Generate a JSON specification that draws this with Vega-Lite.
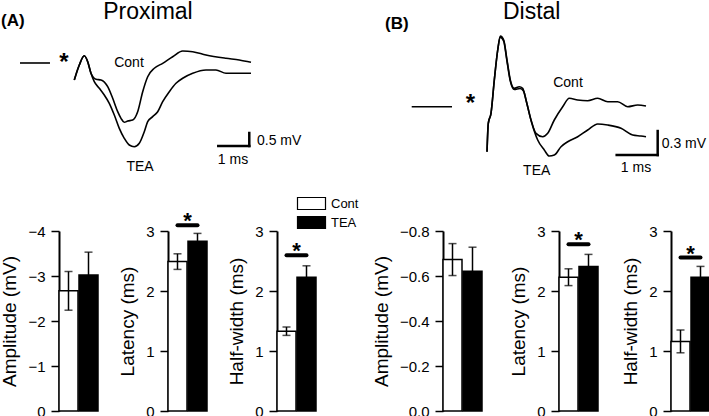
{
  "$schema": "https://vega.github.io/schema/vega-lite/v6.json",
  "padding": 0,
  "background": "white",
  "config": {
    "font": "Liberation Sans",
    "view": {"stroke": null},
    "text": {"color": "black"},
    "axis": {
      "domainColor": "black", "domainWidth": 2,
      "tickColor": "black", "tickWidth": 1.5, "tickSize": 8,
      "labelColor": "black", "labelFontSize": 15, "labelPadding": 6,
      "titleColor": "black", "titleFontSize": 19, "titleFontWeight": "normal", "titlePadding": 8,
      "grid": false
    }
  },
  "datasets": {
    "traces": [
      {"panel":"A","trace":"pre","t":-1.419,"v":0},{"panel":"A","trace":"pre","t":-0.452,"v":0},
      {"panel":"A","trace":"Cont","t":0.332,"v":-0.654},{"panel":"A","trace":"Cont","t":0.494,"v":-0.077},{"panel":"A","trace":"Cont","t":0.655,"v":0.281},{"panel":"A","trace":"Cont","t":0.765,"v":0.05},{"panel":"A","trace":"Cont","t":0.871,"v":-0.396},{"panel":"A","trace":"Cont","t":1.032,"v":-0.627},{"panel":"A","trace":"Cont","t":1.194,"v":-0.654},{"panel":"A","trace":"Cont","t":1.41,"v":-0.912},{"panel":"A","trace":"Cont","t":1.571,"v":-1.358},{"panel":"A","trace":"Cont","t":1.732,"v":-1.873},{"panel":"A","trace":"Cont","t":1.839,"v":-2.127},{"panel":"A","trace":"Cont","t":1.945,"v":-2.281},{"panel":"A","trace":"Cont","t":2.055,"v":-2.231},{"panel":"A","trace":"Cont","t":2.216,"v":-2.192},{"panel":"A","trace":"Cont","t":2.377,"v":-1.873},{"panel":"A","trace":"Cont","t":2.539,"v":-1.104},{"panel":"A","trace":"Cont","t":2.7,"v":-0.527},{"panel":"A","trace":"Cont","t":2.913,"v":-0.204},{"panel":"A","trace":"Cont","t":3.184,"v":-0.012},{"panel":"A","trace":"Cont","t":3.506,"v":0.242},{"panel":"A","trace":"Cont","t":3.829,"v":0.462},{"panel":"A","trace":"Cont","t":4.152,"v":0.435},{"panel":"A","trace":"Cont","t":4.581,"v":0.308},{"panel":"A","trace":"Cont","t":5.226,"v":0.181},{"panel":"A","trace":"Cont","t":5.655,"v":0.115},{"panel":"A","trace":"Cont","t":6.032,"v":0.027},
      {"panel":"A","trace":"TEA","t":0.332,"v":-0.654},{"panel":"A","trace":"TEA","t":0.494,"v":-0.077},{"panel":"A","trace":"TEA","t":0.655,"v":0.281},{"panel":"A","trace":"TEA","t":0.765,"v":0.05},{"panel":"A","trace":"TEA","t":0.871,"v":-0.396},{"panel":"A","trace":"TEA","t":0.977,"v":-0.719},{"panel":"A","trace":"TEA","t":1.139,"v":-0.973},{"panel":"A","trace":"TEA","t":1.3,"v":-1.231},{"panel":"A","trace":"TEA","t":1.461,"v":-1.55},{"panel":"A","trace":"TEA","t":1.623,"v":-2.0},{"panel":"A","trace":"TEA","t":1.784,"v":-2.512},{"panel":"A","trace":"TEA","t":1.945,"v":-2.896},{"panel":"A","trace":"TEA","t":2.106,"v":-3.154},{"panel":"A","trace":"TEA","t":2.268,"v":-3.219},{"panel":"A","trace":"TEA","t":2.429,"v":-3.088},{"panel":"A","trace":"TEA","t":2.59,"v":-2.642},{"panel":"A","trace":"TEA","t":2.7,"v":-2.258},{"panel":"A","trace":"TEA","t":2.861,"v":-2.065},{"panel":"A","trace":"TEA","t":3.023,"v":-1.873},{"panel":"A","trace":"TEA","t":3.184,"v":-1.488},{"panel":"A","trace":"TEA","t":3.397,"v":-1.104},{"panel":"A","trace":"TEA","t":3.613,"v":-0.781},{"panel":"A","trace":"TEA","t":3.829,"v":-0.588},{"panel":"A","trace":"TEA","t":4.152,"v":-0.396},{"panel":"A","trace":"TEA","t":4.581,"v":-0.269},{"panel":"A","trace":"TEA","t":4.903,"v":-0.269},{"panel":"A","trace":"TEA","t":5.226,"v":-0.396},{"panel":"A","trace":"TEA","t":5.655,"v":-0.396},{"panel":"A","trace":"TEA","t":6.032,"v":-0.396},
      {"panel":"B","trace":"pre","t":-1.422,"v":0},{"panel":"B","trace":"pre","t":-0.439,"v":0},
      {"panel":"B","trace":"Cont","t":0.415,"v":-0.563},{"panel":"B","trace":"Cont","t":0.446,"v":-0.208},{"panel":"B","trace":"Cont","t":0.512,"v":-0.083},{"panel":"B","trace":"Cont","t":0.593,"v":0.334},{"panel":"B","trace":"Cont","t":0.676,"v":0.709},{"panel":"B","trace":"Cont","t":0.739,"v":0.884},{"panel":"B","trace":"Cont","t":0.822,"v":0.834},{"panel":"B","trace":"Cont","t":0.902,"v":0.584},{"panel":"B","trace":"Cont","t":0.983,"v":0.334},{"panel":"B","trace":"Cont","t":1.08,"v":0.23},{"panel":"B","trace":"Cont","t":1.202,"v":0.25},{"panel":"B","trace":"Cont","t":1.285,"v":0.23},{"panel":"B","trace":"Cont","t":1.366,"v":0.084},{"panel":"B","trace":"Cont","t":1.488,"v":-0.166},{"panel":"B","trace":"Cont","t":1.61,"v":-0.333},{"panel":"B","trace":"Cont","t":1.773,"v":-0.375},{"panel":"B","trace":"Cont","t":1.895,"v":-0.333},{"panel":"B","trace":"Cont","t":2.056,"v":-0.166},{"panel":"B","trace":"Cont","t":2.261,"v":0.0},{"panel":"B","trace":"Cont","t":2.422,"v":0.105},{"panel":"B","trace":"Cont","t":2.627,"v":0.084},{"panel":"B","trace":"Cont","t":2.871,"v":0.075},{"panel":"B","trace":"Cont","t":3.115,"v":0.105},{"panel":"B","trace":"Cont","t":3.359,"v":0.063},{"panel":"B","trace":"Cont","t":3.602,"v":0.063},{"panel":"B","trace":"Cont","t":3.846,"v":0.0},{"panel":"B","trace":"Cont","t":4.09,"v":0.021},{"panel":"B","trace":"Cont","t":4.293,"v":0.009},
      {"panel":"B","trace":"TEA","t":0.415,"v":-0.563},{"panel":"B","trace":"TEA","t":0.446,"v":-0.208},{"panel":"B","trace":"TEA","t":0.512,"v":-0.083},{"panel":"B","trace":"TEA","t":0.593,"v":0.334},{"panel":"B","trace":"TEA","t":0.676,"v":0.709},{"panel":"B","trace":"TEA","t":0.739,"v":0.87},{"panel":"B","trace":"TEA","t":0.822,"v":0.82},{"panel":"B","trace":"TEA","t":0.902,"v":0.57},{"panel":"B","trace":"TEA","t":0.983,"v":0.32},{"panel":"B","trace":"TEA","t":1.08,"v":0.215},{"panel":"B","trace":"TEA","t":1.22,"v":0.228},{"panel":"B","trace":"TEA","t":1.305,"v":0.196},{"panel":"B","trace":"TEA","t":1.39,"v":0.034},{"panel":"B","trace":"TEA","t":1.5,"v":-0.191},{"panel":"B","trace":"TEA","t":1.651,"v":-0.416},{"panel":"B","trace":"TEA","t":1.812,"v":-0.541},{"panel":"B","trace":"TEA","t":1.934,"v":-0.616},{"panel":"B","trace":"TEA","t":2.056,"v":-0.604},{"panel":"B","trace":"TEA","t":2.22,"v":-0.5},{"panel":"B","trace":"TEA","t":2.383,"v":-0.438},{"panel":"B","trace":"TEA","t":2.627,"v":-0.375},{"panel":"B","trace":"TEA","t":2.871,"v":-0.291},{"panel":"B","trace":"TEA","t":3.115,"v":-0.216},{"panel":"B","trace":"TEA","t":3.359,"v":-0.229},{"panel":"B","trace":"TEA","t":3.683,"v":-0.27},{"panel":"B","trace":"TEA","t":3.968,"v":-0.354},{"panel":"B","trace":"TEA","t":4.171,"v":-0.366},{"panel":"B","trace":"TEA","t":4.293,"v":-0.375}
    ],
    "bars": [
      {"region":"Proximal","measure":"Amplitude","group":"Cont","mean":-2.67,"lo":-3.1,"hi":-2.24},
      {"region":"Proximal","measure":"Amplitude","group":"TEA","mean":-3.02,"lo":-3.53,"hi":-2.51},
      {"region":"Proximal","measure":"Latency","group":"Cont","mean":2.49,"lo":2.36,"hi":2.62},
      {"region":"Proximal","measure":"Latency","group":"TEA","mean":2.83,"lo":2.7,"hi":2.96},
      {"region":"Proximal","measure":"Half-width","group":"Cont","mean":1.33,"lo":1.26,"hi":1.4},
      {"region":"Proximal","measure":"Half-width","group":"TEA","mean":2.23,"lo":2.04,"hi":2.42},
      {"region":"Distal","measure":"Amplitude","group":"Cont","mean":-0.673,"lo":-0.744,"hi":-0.602},
      {"region":"Distal","measure":"Amplitude","group":"TEA","mean":-0.621,"lo":-0.728,"hi":-0.514},
      {"region":"Distal","measure":"Latency","group":"Cont","mean":2.23,"lo":2.09,"hi":2.37},
      {"region":"Distal","measure":"Latency","group":"TEA","mean":2.41,"lo":2.21,"hi":2.61},
      {"region":"Distal","measure":"Half-width","group":"Cont","mean":1.16,"lo":0.97,"hi":1.35},
      {"region":"Distal","measure":"Half-width","group":"TEA","mean":2.23,"lo":2.05,"hi":2.41}
    ],
    "sig": [
      {"region":"Proximal","measure":"Latency","level":3.095},
      {"region":"Proximal","measure":"Half-width","level":2.595},
      {"region":"Distal","measure":"Latency","level":2.78},
      {"region":"Distal","measure":"Half-width","level":2.557}
    ]
  },
  "spacing": 18,
  "vconcat": [
    {
      "hconcat": [
        {
          "width": 186, "height": 148,
          "layer": [
            {"data": {"name": "traces"}, "transform": [{"filter": "datum.panel === 'A'"}],
             "mark": {"type": "line", "color": "black", "strokeWidth": 1.6, "interpolate": "monotone"},
             "encoding": {
               "x": {"field": "t", "type": "quantitative", "scale": {"domain": [-0.161, 5.839], "nice": false, "zero": false}, "axis": null},
               "y": {"field": "v", "type": "quantitative", "scale": {"domain": [-4.423, 1.269], "nice": false, "zero": false}, "axis": null},
               "detail": {"field": "trace", "type": "nominal"}}},
            {"data": {"values": [{}]}, "mark": {"type": "rule", "color": "black", "strokeWidth": 2.5, "strokeCap": "square"},
             "encoding": {"x": {"datum": 4.977, "type": "quantitative", "axis": null}, "x2": {"datum": 5.977}, "y": {"datum": -3.192, "type": "quantitative", "axis": null}}},
            {"data": {"values": [{}]}, "mark": {"type": "rule", "color": "black", "strokeWidth": 2.5, "strokeCap": "square"},
             "encoding": {"x": {"datum": 5.977, "type": "quantitative", "axis": null}, "y": {"datum": -3.192, "type": "quantitative", "axis": null}, "y2": {"datum": -2.692}}},
            {"data": {"values": [{}]}, "mark": {"type": "text", "text": "Proximal", "fontSize": 23, "align": "center", "baseline": "alphabetic"},
             "encoding": {"x": {"datum": 2.71, "type": "quantitative", "axis": null}, "y": {"datum": 1.681, "type": "quantitative", "axis": null}}},
            {"data": {"values": [{}]}, "mark": {"type": "text", "text": "Cont", "fontSize": 14, "align": "center", "baseline": "alphabetic"},
             "encoding": {"x": {"datum": 2.097, "type": "quantitative", "axis": null}, "y": {"datum": -0.154, "type": "quantitative", "axis": null}}},
            {"data": {"values": [{}]}, "mark": {"type": "text", "text": "TEA", "fontSize": 14, "align": "center", "baseline": "alphabetic"},
             "encoding": {"x": {"datum": 2.452, "type": "quantitative", "axis": null}, "y": {"datum": -4.154, "type": "quantitative", "axis": null}}},
            {"data": {"values": [{}]}, "mark": {"type": "text", "text": "1 ms", "fontSize": 14, "align": "center", "baseline": "alphabetic"},
             "encoding": {"x": {"datum": 5.452, "type": "quantitative", "axis": null}, "y": {"datum": -3.885, "type": "quantitative", "axis": null}}},
            {"data": {"values": [{}]}, "mark": {"type": "text", "text": "0.5 mV", "fontSize": 14, "align": "left", "baseline": "alphabetic"},
             "encoding": {"x": {"datum": 6.226, "type": "quantitative", "axis": null}, "y": {"datum": -3.154, "type": "quantitative", "axis": null}}},
            {"data": {"values": [{}]}, "mark": {"type": "text", "text": "(A)", "fontSize": 17, "fontWeight": "bold", "align": "left", "baseline": "alphabetic"},
             "encoding": {"x": {"datum": -2.032, "type": "quantitative", "axis": null}, "y": {"datum": 1.404, "type": "quantitative", "axis": null}}},
            {"data": {"values": [{}]}, "mark": {"type": "text", "text": "*", "fontSize": 24, "fontWeight": "bold", "align": "center", "baseline": "alphabetic"},
             "encoding": {"x": {"datum": 0.0, "type": "quantitative", "axis": null}, "y": {"datum": -0.258, "type": "quantitative", "axis": null}}}
          ]
        },
        {
          "width": 341, "height": 148,
          "layer": [
            {"data": {"name": "traces"}, "transform": [{"filter": "datum.panel === 'B'"}],
             "mark": {"type": "line", "color": "black", "strokeWidth": 1.6, "interpolate": "monotone"},
             "encoding": {
               "x": {"field": "t", "type": "quantitative", "scale": {"domain": [-2.659, 5.659], "nice": false, "zero": false}, "axis": null},
               "y": {"field": "v", "type": "quantitative", "scale": {"domain": [-0.891, 0.959], "nice": false, "zero": false}, "axis": null},
               "detail": {"field": "trace", "type": "nominal"}}},
            {"data": {"values": [{}]}, "mark": {"type": "rule", "color": "black", "strokeWidth": 2.5, "strokeCap": "square"},
             "encoding": {"x": {"datum": 3.578, "type": "quantitative", "axis": null}, "x2": {"datum": 4.578}, "y": {"datum": -0.604, "type": "quantitative", "axis": null}}},
            {"data": {"values": [{}]}, "mark": {"type": "rule", "color": "black", "strokeWidth": 2.5, "strokeCap": "square"},
             "encoding": {"x": {"datum": 4.578, "type": "quantitative", "axis": null}, "y": {"datum": -0.604, "type": "quantitative", "axis": null}, "y2": {"datum": -0.304}}},
            {"data": {"values": [{}]}, "mark": {"type": "text", "text": "Distal", "fontSize": 23, "align": "center", "baseline": "alphabetic"},
             "encoding": {"x": {"datum": 1.505, "type": "quantitative", "axis": null}, "y": {"datum": 1.1, "type": "quantitative", "axis": null}}},
            {"data": {"values": [{}]}, "mark": {"type": "text", "text": "Cont", "fontSize": 14, "align": "center", "baseline": "alphabetic"},
             "encoding": {"x": {"datum": 2.39, "type": "quantitative", "axis": null}, "y": {"datum": 0.2525, "type": "quantitative", "axis": null}}},
            {"data": {"values": [{}]}, "mark": {"type": "text", "text": "TEA", "fontSize": 14, "align": "center", "baseline": "alphabetic"},
             "encoding": {"x": {"datum": 1.627, "type": "quantitative", "axis": null}, "y": {"datum": -0.854, "type": "quantitative", "axis": null}}},
            {"data": {"values": [{}]}, "mark": {"type": "text", "text": "1 ms", "fontSize": 14, "align": "center", "baseline": "alphabetic"},
             "encoding": {"x": {"datum": 4.05, "type": "quantitative", "axis": null}, "y": {"datum": -0.81, "type": "quantitative", "axis": null}}},
            {"data": {"values": [{}]}, "mark": {"type": "text", "text": "0.3 mV", "fontSize": 14, "align": "left", "baseline": "alphabetic"},
             "encoding": {"x": {"datum": 4.676, "type": "quantitative", "axis": null}, "y": {"datum": -0.51, "type": "quantitative", "axis": null}}},
            {"data": {"values": [{}]}, "mark": {"type": "text", "text": "(B)", "fontSize": 17, "fontWeight": "bold", "align": "left", "baseline": "alphabetic"},
             "encoding": {"x": {"datum": -2.073, "type": "quantitative", "axis": null}, "y": {"datum": 0.971, "type": "quantitative", "axis": null}}},
            {"data": {"values": [{}]}, "mark": {"type": "text", "text": "*", "fontSize": 24, "fontWeight": "bold", "align": "center", "baseline": "alphabetic"},
             "encoding": {"x": {"datum": 0.012, "type": "quantitative", "axis": null}, "y": {"datum": -0.056, "type": "quantitative", "axis": null}}}
          ]
        }
      ],
      "bounds": "flush",
      "spacing": 116
    },
    {
      "hconcat": [
        {
          "width": 59, "height": 180,
          "layer": [
            {"data": {"name": "bars"}, "transform": [{"filter": "datum.region === 'Proximal' && datum.measure === 'Amplitude'"}],
             "mark": {"type": "bar", "stroke": "black", "strokeWidth": 1.5},
             "encoding": {
               "x": {"field": "group", "type": "nominal", "scale": {"range": [0, 39], "paddingInner": 0.05, "paddingOuter": 0}, "axis": null},
               "y": {"field": "mean", "type": "quantitative", "title": "Amplitude (mV)", "scale": {"domain": [0, -4], "nice": false}, "axis": {"values": [0, -1, -2, -3, -4], "format": "d"}},
               "fill": {"field": "group", "type": "nominal", "scale": {"domain": ["Cont", "TEA"], "range": ["white", "black"]}, "legend": null}}},
            {"data": {"name": "bars"}, "transform": [{"filter": "datum.region === 'Proximal' && datum.measure === 'Amplitude'"}],
             "mark": {"type": "rule", "color": "black", "strokeWidth": 1.5},
             "encoding": {"x": {"field": "group", "type": "nominal"}, "y": {"field": "lo", "type": "quantitative", "title": "Amplitude (mV)"}, "y2": {"field": "hi"}}},
            {"data": {"name": "bars"}, "transform": [{"filter": "datum.region === 'Proximal' && datum.measure === 'Amplitude'"}],
             "mark": {"type": "tick", "color": "black", "size": 8, "thickness": 1.5},
             "encoding": {"x": {"field": "group", "type": "nominal"}, "y": {"field": "lo", "type": "quantitative", "title": "Amplitude (mV)"}}},
            {"data": {"name": "bars"}, "transform": [{"filter": "datum.region === 'Proximal' && datum.measure === 'Amplitude'"}],
             "mark": {"type": "tick", "color": "black", "size": 8, "thickness": 1.5},
             "encoding": {"x": {"field": "group", "type": "nominal"}, "y": {"field": "hi", "type": "quantitative", "title": "Amplitude (mV)"}}}
          ]
        },
        {
          "width": 59, "height": 180,
          "layer": [
            {"data": {"name": "bars"}, "transform": [{"filter": "datum.region === 'Proximal' && datum.measure === 'Latency'"}],
             "mark": {"type": "bar", "stroke": "black", "strokeWidth": 1.5},
             "encoding": {
               "x": {"field": "group", "type": "nominal", "scale": {"range": [0, 39], "paddingInner": 0.05, "paddingOuter": 0}, "axis": null},
               "y": {"field": "mean", "type": "quantitative", "title": "Latency (ms)", "scale": {"domain": [0, 3], "nice": false}, "axis": {"values": [0, 1, 2, 3], "format": "d"}},
               "fill": {"field": "group", "type": "nominal", "scale": {"domain": ["Cont", "TEA"], "range": ["white", "black"]}, "legend": null}}},
            {"data": {"name": "bars"}, "transform": [{"filter": "datum.region === 'Proximal' && datum.measure === 'Latency'"}],
             "mark": {"type": "rule", "color": "black", "strokeWidth": 1.5},
             "encoding": {"x": {"field": "group", "type": "nominal"}, "y": {"field": "lo", "type": "quantitative", "title": "Latency (ms)"}, "y2": {"field": "hi"}}},
            {"data": {"name": "bars"}, "transform": [{"filter": "datum.region === 'Proximal' && datum.measure === 'Latency'"}],
             "mark": {"type": "tick", "color": "black", "size": 8, "thickness": 1.5},
             "encoding": {"x": {"field": "group", "type": "nominal"}, "y": {"field": "lo", "type": "quantitative", "title": "Latency (ms)"}}},
            {"data": {"name": "bars"}, "transform": [{"filter": "datum.region === 'Proximal' && datum.measure === 'Latency'"}],
             "mark": {"type": "tick", "color": "black", "size": 8, "thickness": 1.5},
             "encoding": {"x": {"field": "group", "type": "nominal"}, "y": {"field": "hi", "type": "quantitative", "title": "Latency (ms)"}}},
            {"data": {"name": "sig"}, "transform": [{"filter": "datum.region === 'Proximal' && datum.measure === 'Latency'"}],
             "mark": {"type": "rule", "color": "black", "strokeWidth": 4, "strokeCap": "round"},
             "encoding": {"x": {"datum": "Cont", "type": "nominal"}, "x2": {"datum": "TEA"}, "y": {"field": "level", "type": "quantitative", "title": "Latency (ms)"}}},
            {"data": {"name": "sig"}, "transform": [{"filter": "datum.region === 'Proximal' && datum.measure === 'Latency'"}],
             "mark": {"type": "text", "text": "*", "fontSize": 22, "fontWeight": "bold", "align": "center", "baseline": "alphabetic", "dx": 10, "dy": 3},
             "encoding": {"x": {"datum": "Cont", "type": "nominal"}, "y": {"field": "level", "type": "quantitative", "title": "Latency (ms)"}}}
          ]
        },
        {
          "width": 116, "height": 180,
          "layer": [
            {"data": {"name": "bars"}, "transform": [{"filter": "datum.region === 'Proximal' && datum.measure === 'Half-width'"}],
             "mark": {"type": "bar", "stroke": "black", "strokeWidth": 1.5},
             "encoding": {
               "x": {"field": "group", "type": "nominal", "scale": {"range": [0, 39], "paddingInner": 0.05, "paddingOuter": 0}, "axis": null},
               "y": {"field": "mean", "type": "quantitative", "title": "Half-width (ms)", "scale": {"domain": [0, 3], "nice": false}, "axis": {"values": [0, 1, 2, 3], "format": "d"}},
               "fill": {"field": "group", "type": "nominal", "scale": {"domain": ["Cont", "TEA"], "range": ["white", "black"]},
                        "legend": {"title": null, "orient": "none", "legendX": 28, "legendY": -34, "symbolType": "M-3.5,-1.5H3.5V1.5H-3.5Z", "symbolSize": 64, "symbolStrokeColor": "black", "symbolStrokeWidth": 1.2, "labelFontSize": 13, "labelColor": "black", "labelOffset": 13, "rowPadding": 2, "padding": 0}}}},
            {"data": {"name": "bars"}, "transform": [{"filter": "datum.region === 'Proximal' && datum.measure === 'Half-width'"}],
             "mark": {"type": "rule", "color": "black", "strokeWidth": 1.5},
             "encoding": {"x": {"field": "group", "type": "nominal"}, "y": {"field": "lo", "type": "quantitative", "title": "Half-width (ms)"}, "y2": {"field": "hi"}}},
            {"data": {"name": "bars"}, "transform": [{"filter": "datum.region === 'Proximal' && datum.measure === 'Half-width'"}],
             "mark": {"type": "tick", "color": "black", "size": 8, "thickness": 1.5},
             "encoding": {"x": {"field": "group", "type": "nominal"}, "y": {"field": "lo", "type": "quantitative", "title": "Half-width (ms)"}}},
            {"data": {"name": "bars"}, "transform": [{"filter": "datum.region === 'Proximal' && datum.measure === 'Half-width'"}],
             "mark": {"type": "tick", "color": "black", "size": 8, "thickness": 1.5},
             "encoding": {"x": {"field": "group", "type": "nominal"}, "y": {"field": "hi", "type": "quantitative", "title": "Half-width (ms)"}}},
            {"data": {"name": "sig"}, "transform": [{"filter": "datum.region === 'Proximal' && datum.measure === 'Half-width'"}],
             "mark": {"type": "rule", "color": "black", "strokeWidth": 4, "strokeCap": "round"},
             "encoding": {"x": {"datum": "Cont", "type": "nominal"}, "x2": {"datum": "TEA"}, "y": {"field": "level", "type": "quantitative", "title": "Half-width (ms)"}}},
            {"data": {"name": "sig"}, "transform": [{"filter": "datum.region === 'Proximal' && datum.measure === 'Half-width'"}],
             "mark": {"type": "text", "text": "*", "fontSize": 22, "fontWeight": "bold", "align": "center", "baseline": "alphabetic", "dx": 10, "dy": 3},
             "encoding": {"x": {"datum": "Cont", "type": "nominal"}, "y": {"field": "level", "type": "quantitative", "title": "Half-width (ms)"}}}
          ]
        },
        {
          "width": 66, "height": 180,
          "layer": [
            {"data": {"name": "bars"}, "transform": [{"filter": "datum.region === 'Distal' && datum.measure === 'Amplitude'"}],
             "mark": {"type": "bar", "stroke": "black", "strokeWidth": 1.5},
             "encoding": {
               "x": {"field": "group", "type": "nominal", "scale": {"range": [0, 39], "paddingInner": 0.05, "paddingOuter": 0}, "axis": null},
               "y": {"field": "mean", "type": "quantitative", "title": "Amplitude (mV)", "scale": {"domain": [0, -0.8], "nice": false}, "axis": {"values": [0, -0.2, -0.4, -0.6, -0.8], "format": ".1f"}},
               "fill": {"field": "group", "type": "nominal", "scale": {"domain": ["Cont", "TEA"], "range": ["white", "black"]}, "legend": null}}},
            {"data": {"name": "bars"}, "transform": [{"filter": "datum.region === 'Distal' && datum.measure === 'Amplitude'"}],
             "mark": {"type": "rule", "color": "black", "strokeWidth": 1.5},
             "encoding": {"x": {"field": "group", "type": "nominal"}, "y": {"field": "lo", "type": "quantitative", "title": "Amplitude (mV)"}, "y2": {"field": "hi"}}},
            {"data": {"name": "bars"}, "transform": [{"filter": "datum.region === 'Distal' && datum.measure === 'Amplitude'"}],
             "mark": {"type": "tick", "color": "black", "size": 8, "thickness": 1.5},
             "encoding": {"x": {"field": "group", "type": "nominal"}, "y": {"field": "lo", "type": "quantitative", "title": "Amplitude (mV)"}}},
            {"data": {"name": "bars"}, "transform": [{"filter": "datum.region === 'Distal' && datum.measure === 'Amplitude'"}],
             "mark": {"type": "tick", "color": "black", "size": 8, "thickness": 1.5},
             "encoding": {"x": {"field": "group", "type": "nominal"}, "y": {"field": "hi", "type": "quantitative", "title": "Amplitude (mV)"}}}
          ]
        },
        {
          "width": 61.5, "height": 180,
          "layer": [
            {"data": {"name": "bars"}, "transform": [{"filter": "datum.region === 'Distal' && datum.measure === 'Latency'"}],
             "mark": {"type": "bar", "stroke": "black", "strokeWidth": 1.5},
             "encoding": {
               "x": {"field": "group", "type": "nominal", "scale": {"range": [0, 39], "paddingInner": 0.05, "paddingOuter": 0}, "axis": null},
               "y": {"field": "mean", "type": "quantitative", "title": "Latency (ms)", "scale": {"domain": [0, 3], "nice": false}, "axis": {"values": [0, 1, 2, 3], "format": "d"}},
               "fill": {"field": "group", "type": "nominal", "scale": {"domain": ["Cont", "TEA"], "range": ["white", "black"]}, "legend": null}}},
            {"data": {"name": "bars"}, "transform": [{"filter": "datum.region === 'Distal' && datum.measure === 'Latency'"}],
             "mark": {"type": "rule", "color": "black", "strokeWidth": 1.5},
             "encoding": {"x": {"field": "group", "type": "nominal"}, "y": {"field": "lo", "type": "quantitative", "title": "Latency (ms)"}, "y2": {"field": "hi"}}},
            {"data": {"name": "bars"}, "transform": [{"filter": "datum.region === 'Distal' && datum.measure === 'Latency'"}],
             "mark": {"type": "tick", "color": "black", "size": 8, "thickness": 1.5},
             "encoding": {"x": {"field": "group", "type": "nominal"}, "y": {"field": "lo", "type": "quantitative", "title": "Latency (ms)"}}},
            {"data": {"name": "bars"}, "transform": [{"filter": "datum.region === 'Distal' && datum.measure === 'Latency'"}],
             "mark": {"type": "tick", "color": "black", "size": 8, "thickness": 1.5},
             "encoding": {"x": {"field": "group", "type": "nominal"}, "y": {"field": "hi", "type": "quantitative", "title": "Latency (ms)"}}},
            {"data": {"name": "sig"}, "transform": [{"filter": "datum.region === 'Distal' && datum.measure === 'Latency'"}],
             "mark": {"type": "rule", "color": "black", "strokeWidth": 4, "strokeCap": "round"},
             "encoding": {"x": {"datum": "Cont", "type": "nominal"}, "x2": {"datum": "TEA"}, "y": {"field": "level", "type": "quantitative", "title": "Latency (ms)"}}},
            {"data": {"name": "sig"}, "transform": [{"filter": "datum.region === 'Distal' && datum.measure === 'Latency'"}],
             "mark": {"type": "text", "text": "*", "fontSize": 22, "fontWeight": "bold", "align": "center", "baseline": "alphabetic", "dx": 10, "dy": 3},
             "encoding": {"x": {"datum": "Cont", "type": "nominal"}, "y": {"field": "level", "type": "quantitative", "title": "Latency (ms)"}}}
          ]
        },
        {
          "width": 39, "height": 180,
          "layer": [
            {"data": {"name": "bars"}, "transform": [{"filter": "datum.region === 'Distal' && datum.measure === 'Half-width'"}],
             "mark": {"type": "bar", "stroke": "black", "strokeWidth": 1.5},
             "encoding": {
               "x": {"field": "group", "type": "nominal", "scale": {"range": [0, 39], "paddingInner": 0.05, "paddingOuter": 0}, "axis": null},
               "y": {"field": "mean", "type": "quantitative", "title": "Half-width (ms)", "scale": {"domain": [0, 3], "nice": false}, "axis": {"values": [0, 1, 2, 3], "format": "d"}},
               "fill": {"field": "group", "type": "nominal", "scale": {"domain": ["Cont", "TEA"], "range": ["white", "black"]}, "legend": null}}},
            {"data": {"name": "bars"}, "transform": [{"filter": "datum.region === 'Distal' && datum.measure === 'Half-width'"}],
             "mark": {"type": "rule", "color": "black", "strokeWidth": 1.5},
             "encoding": {"x": {"field": "group", "type": "nominal"}, "y": {"field": "lo", "type": "quantitative", "title": "Half-width (ms)"}, "y2": {"field": "hi"}}},
            {"data": {"name": "bars"}, "transform": [{"filter": "datum.region === 'Distal' && datum.measure === 'Half-width'"}],
             "mark": {"type": "tick", "color": "black", "size": 8, "thickness": 1.5},
             "encoding": {"x": {"field": "group", "type": "nominal"}, "y": {"field": "lo", "type": "quantitative", "title": "Half-width (ms)"}}},
            {"data": {"name": "bars"}, "transform": [{"filter": "datum.region === 'Distal' && datum.measure === 'Half-width'"}],
             "mark": {"type": "tick", "color": "black", "size": 8, "thickness": 1.5},
             "encoding": {"x": {"field": "group", "type": "nominal"}, "y": {"field": "hi", "type": "quantitative", "title": "Half-width (ms)"}}},
            {"data": {"name": "sig"}, "transform": [{"filter": "datum.region === 'Distal' && datum.measure === 'Half-width'"}],
             "mark": {"type": "rule", "color": "black", "strokeWidth": 4, "strokeCap": "round"},
             "encoding": {"x": {"datum": "Cont", "type": "nominal"}, "x2": {"datum": "TEA"}, "y": {"field": "level", "type": "quantitative", "title": "Half-width (ms)"}}},
            {"data": {"name": "sig"}, "transform": [{"filter": "datum.region === 'Distal' && datum.measure === 'Half-width'"}],
             "mark": {"type": "text", "text": "*", "fontSize": 22, "fontWeight": "bold", "align": "center", "baseline": "alphabetic", "dx": 10, "dy": 3},
             "encoding": {"x": {"datum": "Cont", "type": "nominal"}, "y": {"field": "level", "type": "quantitative", "title": "Half-width (ms)"}}}
          ]
        }
      ],
      "bounds": "flush",
      "spacing": 50,
      "resolve": {"scale": {"fill": "independent"}, "legend": {"fill": "independent"}}
    }
  ]
}
